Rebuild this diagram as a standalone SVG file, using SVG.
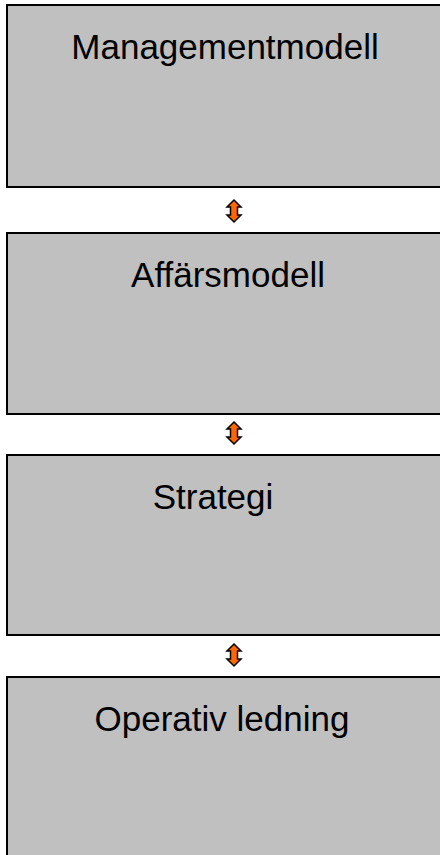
<svg xmlns="http://www.w3.org/2000/svg" width="440" height="855" viewBox="0 0 440 855">
  <style>
    .box { fill: #c0c0c0; stroke: #000000; stroke-width: 2; }
    .label { font-family: "Liberation Sans", Arial, sans-serif; font-size: 35px; fill: #000000; text-anchor: middle; }
    .arrow { fill: #ff6600; stroke: #000000; stroke-width: 1.5; stroke-linejoin: miter; }
  </style>
  <defs>
    <!-- up-down block arrow, centred on the origin, 22 tall -->
    <path id="updown" d="M0,-11 L7,-4 L3.5,-4 L3.5,4 L7,4 L0,11 L-7,4 L-3.5,4 L-3.5,-4 L-7,-4 Z"/>
  </defs>

  <g id="connectors">
    <use href="#updown" class="arrow" x="234" y="211"/>
    <use href="#updown" class="arrow" x="234" y="433"/>
    <use href="#updown" class="arrow" x="234" y="655"/>
  </g>

  <g id="managementmodell">
    <rect class="box" x="7" y="5" width="450" height="182"/>
    <text class="label" x="225" y="59">Managementmodell</text>
  </g>
  <g id="affarsmodell">
    <rect class="box" x="7" y="233" width="450" height="181"/>
    <text class="label" x="228" y="287">Affärsmodell</text>
  </g>
  <g id="strategi">
    <rect class="box" x="7" y="455" width="450" height="180"/>
    <text class="label" x="213" y="509">Strategi</text>
  </g>
  <g id="operativ-ledning">
    <rect class="box" x="7" y="677" width="450" height="200"/>
    <text class="label" x="222" y="731">Operativ ledning</text>
  </g>
</svg>
